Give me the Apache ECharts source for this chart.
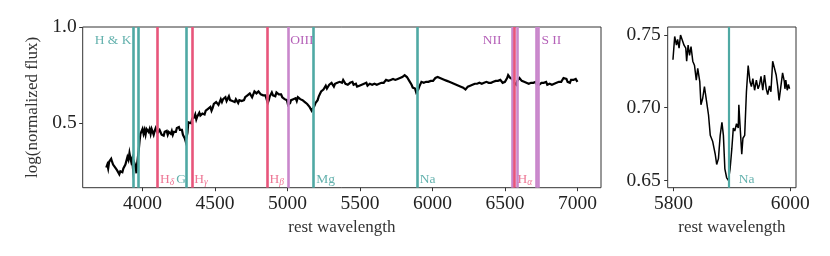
<!DOCTYPE html>
<html>
<head>
<meta charset="utf-8">
<script src="https://cdn.jsdelivr.net/npm/echarts@6/dist/echarts.min.js"></script>
<style>html,body{margin:0;padding:0;background:#fff}#c{width:830px;height:256px}</style>
</head>
<body>
<div id="c"></div>
<script>
// ---- main spectrum (rest wavelength, log normalized flux) ----
const specWave = [
3750,3757,3763,3770,3777,3784,3790,3797,3804,3811,3818,3825,3832,3840,3847,3854,3861,3868,3875,3882,3889,3896,3903,3910,3916,3922,3928,3935,3941,3947,3953,3958,3963,3968,3974,3980,3986,3993,
4000,4007,4014,4021,4028,4035,4042,4049,4056,4063,4070,4077,4084,4091,4097,4104,4111,4118,4125,4132,4139,4146,4153,4160,4167,4174,4181,4188,4195,4202,4209,4216,4223,4230,4237,4244,4251,4258,4265,4272,4279,4286,4292,4298,4304,4310,4316,
4322,4329,4336,4343,4350,4357,4364,4371,4378,4385,4392,4399,4406,4413,4420,4428,4436,4444,4452,4460,4468,4476,4484,4492,4500,4508,4516,4524,4532,4540,4548,4556,4564,4572,4580,4588,4596,4604,4612,4620,4628,4636,4644,4652,4660,4668,4676,4684,4692,4700,4708,4716,4724,4732,4740,4748,4756,4764,4772,4779,4786,4793,4800,
4808,4816,4824,4832,4840,4848,4856,4864,4871,4878,4885,4892,4900,4908,4916,4924,4932,4940,4948,4956,4964,4972,4980,4988,4996,5004,5011,5018,5025,5032,5040,5048,5056,5064,5072,5080,5088,5096,5104,5112,5120,5128,5136,5144,5152,5160,5167,5173,5179,5186,5193,5200,5208,5216,5224,5232,5240,5248,5256,5264,
5272,5280,5288,5296,5304,5312,5320,5328,5336,5344,5352,5360,5368,5376,5384,5392,5400,5408,5416,5424,5432,5440,5448,5456,5464,5472,5480,5488,5496,5504,5512,5520,5528,5536,5544,5552,5560,5568,5576,5584,5592,5600,5608,5616,5624,5632,5640,5648,5656,5664,5672,5680,5688,5696,5704,5712,5720,5728,5736,5744,5752,5760,5768,5776,5784,5792,5800,5808,5816,
5824,5832,5840,5848,5856,5864,5872,5880,5888,5895,5902,5909,5916,5924,5932,5940,5948,5956,5964,5972,5980,5988,5996,6004,6012,6020,6028,6036,6044,6052,6060,6068,6076,6084,6092,6100,6108,6116,6124,6132,6140,6148,6156,6164,6172,6180,6188,6196,6204,6212,6220,6228,6236,6244,6252,6260,6268,6276,6284,6292,6300,
6308,6316,6324,6332,6340,6348,6356,6364,6372,6380,6388,6396,6404,6412,6420,6428,6436,6444,6452,6460,6468,6476,6484,6492,6500,6508,6515,6522,6529,6536,6543,6550,6557,6564,6571,6578,6585,6592,6600,6608,6616,6624,6632,6640,6648,6656,6664,6672,6680,6688,6696,6704,6712,6720,6728,6736,6744,6752,6760,6768,6776,6784,6792,6800,6808,6816,6824,6832,6840,6848,6856,6864,6872,6880,6888,6896,6904,6910,6917,6924,6932,6940,6948,6956,6964,6972,6980,6988,6995,7000];
const specFlux = [
.27,.285,.265,.30,.29,.315,.30,.285,.295,.27,.28,.255,.265,.235,.25,.26,.245,.265,.255,.285,.29,.325,.31,.345,.32,.30,.315,.26,.30,.31,.275,.24,.29,.30,.36,.41,.445,.455,
.47,.445,.465,.44,.47,.475,.455,.47,.445,.47,.455,.44,.46,.475,.48,.45,.44,.465,.455,.44,.45,.435,.455,.445,.46,.44,.455,.465,.445,.46,.44,.455,.465,.455,.475,.47,.48,.465,.455,.465,.44,.43,.42,.405,.415,.45,.505,
.495,.51,.50,.525,.515,.53,.545,.52,.535,.525,.555,.54,.53,.55,.56,.545,.565,.56,.575,.57,.585,.565,.58,.60,.59,.61,.605,.595,.61,.625,.61,.625,.62,.635,.615,.625,.64,.62,.63,.615,.625,.61,.625,.615,.605,.62,.63,.615,.625,.62,.635,.625,.645,.64,.655,.645,.635,.65,.665,.675,.655,.645,.665,
.655,.65,.66,.645,.64,.645,.625,.605,.62,.64,.65,.66,.645,.655,.64,.66,.655,.65,.64,.65,.635,.64,.625,.615,.62,.595,.59,.605,.62,.615,.625,.635,.63,.615,.635,.645,.625,.63,.62,.625,.61,.615,.60,.595,.585,.58,.565,.555,.57,.59,.605,.615,.62,.64,.65,.665,.66,.675,.685,.695,
.68,.69,.70,.695,.71,.70,.69,.705,.695,.71,.70,.715,.705,.71,.725,.715,.705,.715,.70,.695,.71,.705,.715,.70,.695,.705,.69,.70,.695,.705,.70,.695,.705,.70,.71,.695,.70,.705,.695,.70,.71,.705,.715,.70,.71,.705,.715,.71,.72,.71,.715,.725,.715,.72,.715,.725,.72,.73,.72,.725,.735,.73,.74,.735,.745,.74,.745,.75,.745,
.74,.73,.72,.715,.70,.685,.675,.68,.66,.655,.675,.69,.70,.715,.72,.71,.72,.715,.725,.715,.725,.72,.73,.72,.725,.735,.73,.74,.73,.735,.74,.73,.735,.725,.73,.72,.725,.715,.72,.71,.715,.705,.71,.70,.705,.695,.70,.69,.695,.685,.69,.675,.685,.69,.70,.695,.705,.70,.71,.705,.715,
.705,.715,.71,.70,.705,.695,.71,.705,.715,.705,.71,.70,.71,.705,.715,.71,.72,.71,.72,.715,.725,.72,.71,.70,.715,.725,.735,.75,.74,.735,.745,.73,.72,.71,.715,.70,.72,.73,.735,.725,.72,.725,.715,.72,.71,.715,.705,.715,.71,.70,.71,.705,.715,.70,.71,.70,.705,.71,.70,.71,.705,.715,.70,.71,.705,.715,.70,.71,.705,.715,.71,.72,.715,.725,.715,.72,.735,.74,.725,.73,.715,.72,.71,.725,.715,.725,.715,.73,.72,.715];

// ---- zoom on Na D ----
const zoomWave = [5799,5802,5805,5807,5809.5,5812,5815,5818,5821,5822.5,5825,5827.5,5830,5833,5836,5839,5841.5,5845,5847,5850,5853,5857.5,5860,5863,5867,5871.5,5874,5877,5880,5883,5885.5,5888,5891,5894,5897,5900,5902.5,5905,5908,5911,5912,5914,5917,5919,5922,5925,5928,5931,5933.5,5936,5939,5942,5945,5947.5,5950,5953,5956,5959,5961.5,5964.5,5967,5970,5973,5976,5978.5,5981,5984,5987,5990,5991,5992.5,5995,5997,5999];
const zoomFlux = [0.733,0.749,0.743,0.747,0.741,0.750,0.750,0.743,0.741,0.732,0.743,0.736,0.742,0.732,0.729,0.719,0.727,0.718,0.702,0.7065,0.7145,0.702,0.695,0.681,0.677,0.668,0.661,0.665,0.681,0.690,0.681,0.658,0.652,0.650,0.658,0.672,0.686,0.684,0.689,0.686,0.702,0.688,0.668,0.679,0.681,0.711,0.729,0.718,0.7145,0.720,0.712,0.719,0.713,0.716,0.7215,0.712,0.7225,0.713,0.709,0.715,0.711,0.732,0.731,0.7225,0.715,0.705,0.704,0.724,0.718,0.713,0.719,0.712,0.716,0.713];

// ---- spectral features ----
const featWave = [3934,3969,4102,4304,4341,4861,5007,5175,5895,6548,6563,6583,6717,6731];
const featKind = ['abs','abs','balmer','abs','balmer','balmer','em','abs','abs','em','balmer','em','em','em'];

const labelText = ['H & K','OIII','NII','S II','H|δ','G','H|γ','H|β','Mg','Na','H|α'];
const labelWave = [3924,5019,6476,6752,4120,4300,4357,4876,5199,5913,6587];
const labelRow  = ['top','top','top','top','bottom','bottom','bottom','bottom','bottom','bottom','bottom'];
const labelSide = ['left','right','left','right','right','left','right','right','right','right','right'];
const labelKind = ['abs','em','em','em','balmer','abs','balmer','balmer','abs','abs','balmer'];

const zoomFeatWave = [5895];
const zoomLabelText = ['Na'];
const zoomLabelWave = [5912];

const mainXTicks = [4000,4500,5000,5500,6000,6500,7000];
const mainYTicks = [0.5,1.0];
const zoomXTicks = [5800,6000];
const zoomYTicks = [0.65,0.70,0.75];

const lineColor = {abs:'#4fa9a4', balmer:'#e8557b', em:'#c987cc'};
const textColor = {abs:'#3c9e99', balmer:'#e8557b', em:'#a23aa6'};
const FONT = 'Liberation Serif';

const chart = echarts.init(document.getElementById('c'), null, {renderer:'canvas'});

function labelFmt(t){
  if (t.indexOf('|')>=0){ const p=t.split('|'); return '{h|'+p[0]+'}{s|'+p[1]+'}'; }
  return '{h|'+t+'}';
}
function richFor(col){
  return {
    h:{fontFamily:FONT,fontSize:13.5,color:col,lineHeight:16},
    s:{fontFamily:FONT,fontSize:9.5,color:col,lineHeight:8,padding:[8,0,0,0],verticalAlign:'bottom',fontStyle:'italic'}
  };
}
const TOPY = 0.932, BOTY = 0.206;

const labelSeries = labelText.map((t,i)=>({
  type:'scatter', xAxisIndex:0, yAxisIndex:0, symbolSize:0, silent:true, z:5,
  data:[[labelWave[i], labelRow[i]==='top'?TOPY:BOTY]],
  label:{show:true, position:labelSide[i], distance:0, formatter:labelFmt(t), rich:richFor(textColor[labelKind[i]])}
}));

const axisTxt = {fontFamily:FONT, fontSize:19.5, color:'#222'};
const nameTxt = {fontFamily:FONT, fontSize:17, color:'#333'};
const nS = Math.min(specWave.length, specFlux.length);
const nZ = Math.min(zoomWave.length, zoomFlux.length);

chart.setOption({
  animation:false,
  grid:[
    {left:82.7, top:27, width:518.3, height:160.7, show:true, borderColor:'#333', borderWidth:1, backgroundColor:'transparent'},
    {left:667.7, top:27, width:128.3, height:160.7, show:true, borderColor:'#333', borderWidth:1, backgroundColor:'transparent'}
  ],
  xAxis:[
    {type:'value', gridIndex:0, min:3587.5, max:7162.5, splitLine:{show:false}, axisLine:{show:false},
     axisTick:{show:true, length:3.5, lineStyle:{color:'#333'}, customValues:mainXTicks},
     axisLabel:{...axisTxt, margin:6, customValues:mainXTicks, formatter:v=>String(Math.round(v))},
     name:'rest wavelength', nameLocation:'middle', nameGap:29, nameTextStyle:nameTxt},
    {type:'value', gridIndex:1, min:5790, max:6010, splitLine:{show:false}, axisLine:{show:false},
     axisTick:{show:true, length:3.5, lineStyle:{color:'#333'}, customValues:zoomXTicks},
     axisLabel:{...axisTxt, margin:6, customValues:zoomXTicks, formatter:v=>String(Math.round(v))},
     name:'rest wavelength', nameLocation:'middle', nameGap:29, nameTextStyle:nameTxt}
  ],
  yAxis:[
    {type:'value', gridIndex:0, min:0.165, max:1.0, splitLine:{show:false}, axisLine:{show:false},
     axisTick:{show:true, length:3.5, lineStyle:{color:'#333'}, customValues:mainYTicks},
     axisLabel:{...axisTxt, margin:6, customValues:mainYTicks, formatter:v=>v.toFixed(1)},
     name:'log(normalized flux)', nameLocation:'middle', nameGap:35, nameTextStyle:nameTxt},
    {type:'value', gridIndex:1, min:0.645, max:0.7555, splitLine:{show:false}, axisLine:{show:false},
     axisTick:{show:true, length:3.5, lineStyle:{color:'#333'}, customValues:zoomYTicks},
     axisLabel:{...axisTxt, margin:7, customValues:zoomYTicks, formatter:v=>v.toFixed(2)}}
  ],
  series:[
    {type:'line', xAxisIndex:0, yAxisIndex:0, showSymbol:false, z:3,
     data:specWave.slice(0,nS).map((w,i)=>[w,specFlux[i]]),
     lineStyle:{color:'#000', width:2.2, join:'miter'}},
    {type:'line', xAxisIndex:0, yAxisIndex:0, showSymbol:false, data:[], z:4,
     markLine:{silent:true, symbol:'none', animation:false, label:{show:false},
       data:featWave.map((w,i)=>({xAxis:w, lineStyle:{color:lineColor[featKind[i]], width:2.6, type:'solid', opacity:1}}))}},
    {type:'line', xAxisIndex:1, yAxisIndex:1, showSymbol:false, z:3,
     data:zoomWave.slice(0,nZ).map((w,i)=>[w,zoomFlux[i]]),
     lineStyle:{color:'#000', width:1.5}},
    {type:'line', xAxisIndex:1, yAxisIndex:1, showSymbol:false, data:[], z:4,
     markLine:{silent:true, symbol:'none', animation:false, label:{show:false},
       data:zoomFeatWave.map(w=>({xAxis:w, lineStyle:{color:lineColor.abs, width:2.2, type:'solid', opacity:1}}))}},
    {type:'scatter', xAxisIndex:1, yAxisIndex:1, symbolSize:0, silent:true, z:5,
     data:zoomLabelWave.map(w=>[w,0.6505]),
     label:{show:true, position:'right', distance:0, formatter:(p)=>'{h|'+zoomLabelText[p.dataIndex]+'}', rich:richFor(textColor.abs)}},
    ...labelSeries
  ]
});
</script>
</body>
</html>
